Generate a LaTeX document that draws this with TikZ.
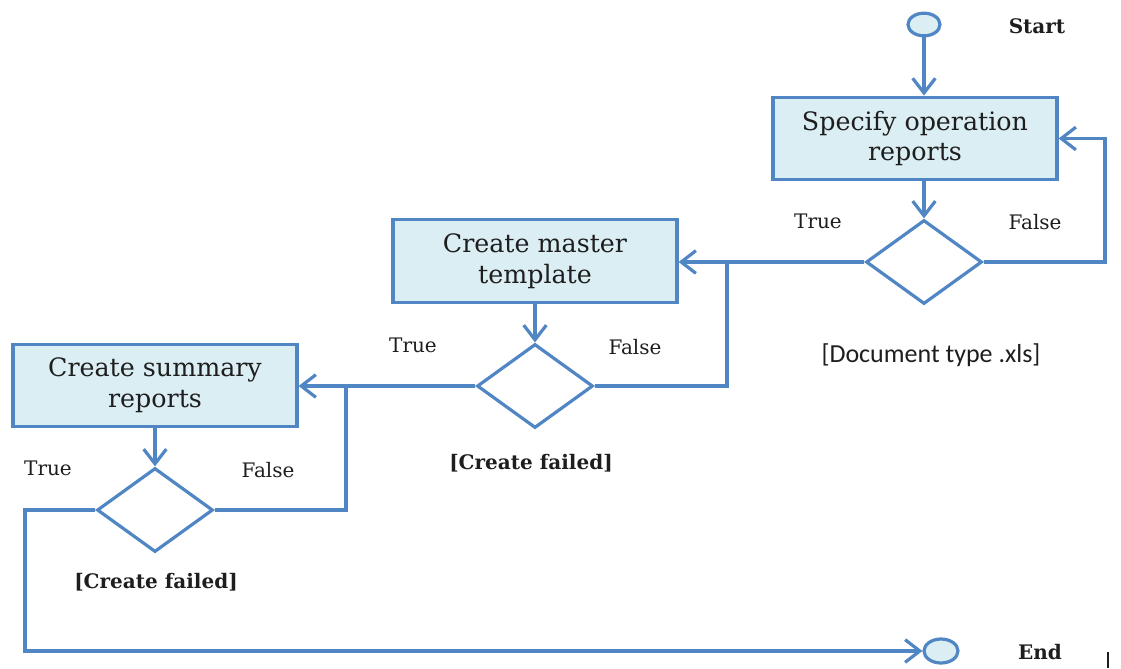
\documentclass[tikz,border=0pt]{standalone}
\usepackage{fontspec}
\setmainfont{DejaVu Serif}
\newfontfamily\notefont{Carlito}
\usetikzlibrary{arrows.meta,shapes.geometric}
\definecolor{flowblue}{HTML}{5086C4}
\definecolor{boxfill}{HTML}{DBEEF4}
\definecolor{inkgray}{HTML}{1E1E1E}
\begin{document}
\begin{tikzpicture}[x=0.75pt,y=-0.75pt,
  flow/.style={draw=flowblue,line width=2.4pt},
  arr/.style={flow,-{Straight Barb[length=11pt,width=17pt]}},
  action/.style={flow,fill=boxfill,rectangle,minimum width=213pt,minimum height=62pt,
    align=center,text=inkgray,font=\fontsize{19}{23}\selectfont,inner sep=0pt},
  decision/.style={flow,fill=white,diamond,minimum width=87pt,minimum height=63pt,inner sep=0pt},
  terminal/.style={flow,fill=boxfill,ellipse,inner sep=0pt},
  branch/.style={text=inkgray,font=\fontsize{15}{18}\selectfont},
  tag/.style={text=inkgray,font=\bfseries\fontsize{15}{18}\selectfont}]
\useasboundingbox (0,0) rectangle (1121,668);

% terminals and steps
\node[terminal,minimum width=24pt,minimum height=17pt] (start) at (924,24.5) {};
\node[action] (specify) at (915,138.5) {Specify operation\\reports};
\node[decision] (d1) at (924,262) {};
\node[action] (master) at (535,261) {Create master\\template};
\node[decision] (d2) at (535,386) {};
\node[action] (summary) at (155,385.5) {Create summary\\reports};
\node[decision] (d3) at (155,510) {};
\node[terminal,minimum width=25.5pt,minimum height=18pt] (end) at (941,651) {};

% bend points
\coordinate (loop1) at (1105,262);
\coordinate (join1) at (727,262);
\coordinate (join2) at (346,385.5);
\coordinate (down3) at (25,510);

% connectors
\draw[arr] (start.south) -- (start.south |- specify.north);
\draw[arr] (d1.north |- specify.south) -- (d1.north);
\draw[arr] (d1.east) -- (loop1) |- (specify.east);
\draw[arr] (d1.west) -- (d1.west -| master.east);
\draw[flow] (d2.east) -| (join1);
\draw[arr] (master.south) -- (d2.north);
\draw[arr] (d2.west) -- (d2.west -| summary.east);
\draw[flow] (d3.east) -| (join2);
\draw[arr] (summary.south) -- (d3.north);
\draw[arr] (d3.west) -- (down3) |- (end.west);

% labels
\node[tag] (lstart) at (1037,26) {Start};
\node[tag] (lend) at (1040,652) {End};
\node[branch] (t1) at (818,221) {True};
\node[branch] (f1) at (1035,222) {False};
\node[branch] (t2) at (413,345) {True};
\node[branch] (f2) at (635,347) {False};
\node[branch] (t3) at (48,468) {True};
\node[branch] (f3) at (268,470) {False};
\node[text=inkgray,font=\notefont\fontsize{19.5}{22}\selectfont] (doc) at (931,355) {[Document type .xls]};
\node[tag] (cf2) at (531,463) {[Create failed]};
\node[tag] (cf3) at (156,582) {[Create failed]};

% cursor mark at the lower right
\draw[inkgray,line width=0.8pt] (1108,652) -- (1108,668);
\end{tikzpicture}
\end{document}
